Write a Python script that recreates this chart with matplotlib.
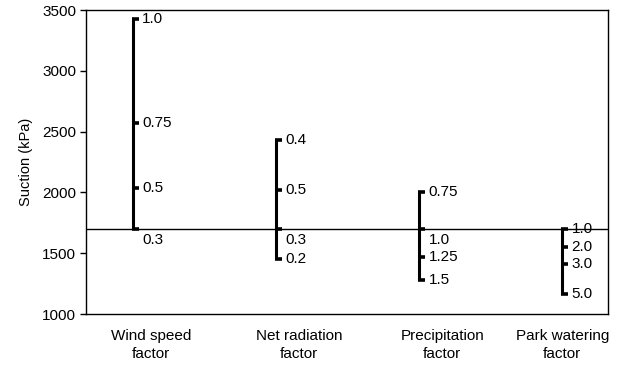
import matplotlib
matplotlib.use("Agg")
import matplotlib.pyplot as plt

plt.rcParams['font.family'] = ['Liberation Sans', 'DejaVu Sans']

categories = ["Wind speed\nfactor", "Net radiation\nfactor", "Precipitation\nfactor", "Park watering\nfactor"]
category_label_pos = [0.126, 1.161, 2.161, 3.0]
baseline = 1695
wind_vals = [3430, 2567, 2040, 1695]
wind_labels = ["1.0", "0.75", "0.5", "0.3"]
net_vals = [2429, 2023, 1695, 1453]
net_labels = ["0.4", "0.5", "0.3", "0.2"]
precip_vals = [2001, 1695, 1466, 1282]
precip_labels = ["0.75", "1.0", "1.25", "1.5"]
park_vals = [1695, 1552, 1414, 1165]
park_labels = ["1.0", "2.0", "3.0", "5.0"]

series_vals = [wind_vals, net_vals, precip_vals, park_vals]
series_labels = [wind_labels, net_labels, precip_labels, park_labels]
# labels printed below the tick (on the baseline) in the first three groups
below = [(0, 3), (1, 2), (2, 1)]

FS = 11

fig = plt.figure(figsize=(6.18, 3.69), dpi=100)
ax = fig.add_axes([86/618, 1-314/369, (608-86)/618, (314-10)/369])

ax.axhline(baseline, color='black', lw=1.0, zorder=1)

cap = 0.04
for i, (vals, labs) in enumerate(zip(series_vals, series_labels)):
    ax.plot([i, i], [min(vals), max(vals)], color='black', lw=2.2, solid_capstyle='butt', zorder=3)
    for j, (v, lab) in enumerate(zip(vals, labs)):
        ax.plot([i - 0.008, i + cap], [v, v], color='black', lw=2.6, solid_capstyle='butt', zorder=3)
        if (i, j) in below:
            ax.text(i + 0.065, v - 30, lab, ha='left', va='top', fontsize=FS)
        else:
            ax.text(i + 0.065, v, lab, ha='left', va='center', fontsize=FS)

ax.set_xlim(-0.329, 3.32)
ax.set_ylim(1000, 3500)
ax.set_yticks([1000, 1500, 2000, 2500, 3000, 3500])
ax.set_xticks(category_label_pos)
ax.set_xticklabels(categories, fontsize=FS, linespacing=1.3)
ax.tick_params(axis='x', length=0, pad=11)
ax.tick_params(axis='y', direction='out', length=4, width=1, labelsize=FS, pad=3)
for s in ax.spines.values():
    s.set_linewidth(1.0)
    s.set_color('black')
ax.set_ylabel("Suction (kPa)", fontsize=10.5, labelpad=7)

fig.savefig("out.png", dpi=100)
